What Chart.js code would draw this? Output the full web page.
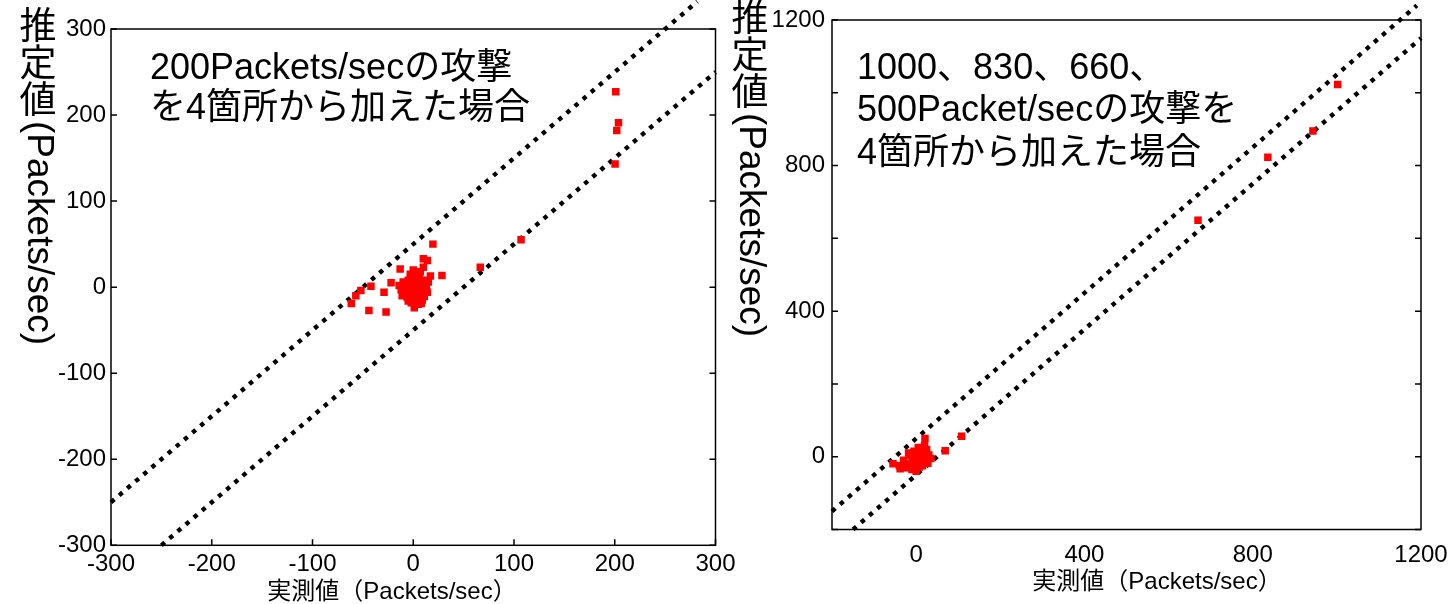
<!DOCTYPE html>
<html>
<head>
<meta charset="utf-8">
<script src="https://cdn.jsdelivr.net/npm/chart.js@4.4.0/dist/chart.umd.min.js"></script>
<style>
  body { margin: 0; background: #fff; width: 1450px; height: 604px; overflow: hidden; position: relative; }
  canvas { position: absolute; top: 0; }
</style>
</head>
<body>
<canvas id="leftChart" width="745" height="604" style="left:0px"></canvas>
<canvas id="rightChart" width="735" height="604" style="left:715px"></canvas>
<script>
// left plot: 200 Packets/sec from 4 places
const leftX = [201, 203.7, 202, 200.3, 107, 66.5, 28.5, 19.5, 10, 14, -13, -22, -42, -29, -52, -57, -61.5, -44, -27,
  10, 17, -12, 5, 0, 3, -5, 8, -8, 2, 6, -3, 12, -10, 4, -2, 9, 0, 14, -6, 7, 1, -14, 11, -4,
  -1, 5, 9, -7, 3, 13, -11, 6, -3, 1, 8, -5, 11, 4, -9, 2, 15, -2, 7, 0];
const leftY = [227, 191, 182, 143, 55, 23, 13.5, 50, 33, 31, 21, 5, 1, -6, -4, -10, -19, -27, -29,
  23, 13, -3, -20, 0, 5, 8, -8, -5, -12, 12, 15, 2, 6, -4, -18, -15, 20, -6, -12, 18, -24, 2, 8, -8,
  -14, 0, 4, 1, -9, -2, -10, 16, -1, 10, -19, -16, -11, 9, -2, -5, 6, 3, -3, 13];
const leftUpper = [[-300, -250], [282, 332]];
const leftLower = [[-250, -300], [300, 250]];

// right plot: 1000, 830, 660, 500 Packet/sec
const rightX = [1002, 943, 836, 670, 108, 69, 21, -55, -38, 1,
  0, 10, -10, 20, -20, 5, 30, -25, 15, -5, 25, -15, 35, 0, 10, -30, 20, -10,
  -40, 8, -2, 18, -18, 28, 12, -8, 3, -28];
const rightY = [1023, 895, 823, 650, 56, 16.5, 50, -19, -33, -29,
  0, 10, -5, -10, -20, 25, 5, -30, -25, 15, 20, 5, -5, -40, -15, -10, 30, -35,
  -25, -28, -12, 12, 10, -18, 0, -22, 8, -20];
const rightUpper = [[-200, -150], [1190, 1240]];
const rightLower = [[-150, -200], [1200, 1150]];

const FONT = "'Liberation Sans', 'Noto Sans CJK JP', sans-serif";

const toPts = (xs, ys) => xs.map((x, i) => ({ x: x, y: ys[i] }));
const toLine = arr => arr.map(p => ({ x: p[0], y: p[1] }));

// frame, inward ticks and the texts
const framePlugin = {
  id: 'frame',
  afterDraw(chart, args, opts) {
    const { ctx, chartArea: a, scales: { x, y } } = chart;
    ctx.save();
    ctx.strokeStyle = '#000';
    ctx.lineWidth = 1.5;
    ctx.strokeRect(a.left, a.top, a.right - a.left, a.bottom - a.top);
    ctx.beginPath();
    y.ticks.forEach(t => {
      const py = y.getPixelForValue(t.value);
      ctx.moveTo(a.left, py); ctx.lineTo(a.left + 6, py);
      ctx.moveTo(a.right, py); ctx.lineTo(a.right - 6, py);
    });
    if (opts.xTicks) {
      x.ticks.forEach(t => {
        const px = x.getPixelForValue(t.value);
        ctx.moveTo(px, a.bottom); ctx.lineTo(px, a.bottom - 6);
      });
    }
    ctx.stroke();

    ctx.fillStyle = '#000';
    // note in the plot
    ctx.font = '36px ' + FONT;
    ctx.textAlign = 'left';
    ctx.textBaseline = 'middle';
    opts.note.forEach((line, i) => ctx.fillText(line, opts.noteX, opts.noteY + i * opts.noteStep));

    // x title
    ctx.font = '24px ' + FONT;
    ctx.textAlign = 'center';
    ctx.fillText('実測値（Packets/sec）', opts.xTitleX, opts.xTitleY);

    // y title, vertical writing
    const fs = 37;
    ctx.font = fs + 'px ' + FONT;
    ['推', '定', '値'].forEach((c, i) => ctx.fillText(c, opts.yTitleX, opts.yTitleY + fs / 2 + i * fs));
    ctx.translate(opts.yTitleX, opts.yTitleY + 3 * fs);
    ctx.rotate(Math.PI / 2);
    ctx.textAlign = 'left';
    ctx.fillText('(Packets/sec)', 0, 0);
    ctx.restore();
  }
};

function makeChart(id, c) {
  return new Chart(document.getElementById(id), {
    type: 'scatter',
    data: {
      datasets: [
        { data: c.points, pointStyle: 'rect', pointRadius: 5.3, borderWidth: 0,
          backgroundColor: '#ff0000', borderColor: '#ff0000' },
        { data: c.upper, showLine: true, pointRadius: 0, borderColor: '#000',
          borderWidth: 4.4, borderDash: [4.4, 6.3], clip: false },
        { data: c.lower, showLine: true, pointRadius: 0, borderColor: '#000',
          borderWidth: 4.4, borderDash: [4.4, 6.3], clip: false }
      ]
    },
    options: {
      responsive: false,
      animation: false,
      devicePixelRatio: 1,
      layout: { padding: { top: c.padTop, right: c.padRight, left: 0, bottom: 0 } },
      plugins: {
        legend: { display: false },
        tooltip: { enabled: false },
        frame: c.frame
      },
      scales: {
        x: {
          type: 'linear', min: c.xMin, max: c.xMax,
          afterFit: s => { s.height = c.xH; s.paddingLeft = 0; s.paddingRight = 0; },
          grid: { display: false, drawTicks: false },
          border: { display: false },
          ticks: { stepSize: c.xStep, autoSkip: false, maxRotation: 0, padding: c.xPad,
            color: '#000', font: { family: FONT, size: 24 }, callback: c.xLabel }
        },
        y: {
          type: 'linear', min: c.yMin, max: c.yMax,
          afterFit: s => { s.width = c.yW; s.paddingTop = 0; s.paddingBottom = 0; },
          grid: { display: false, drawTicks: false },
          border: { display: false },
          ticks: { stepSize: c.yStep, autoSkip: false, padding: c.yPad,
            color: '#000', font: { family: FONT, size: 24 }, callback: c.yLabel }
        }
      }
    },
    plugins: [framePlugin]
  });
}

makeChart('leftChart', {
  points: toPts(leftX, leftY), upper: toLine(leftUpper), lower: toLine(leftLower),
  xMin: -300, xMax: 300, xStep: 100, yMin: -300, yMax: 300, yStep: 100,
  xLabel: v => v, yLabel: v => v,
  padTop: 29, padRight: 29.5, xH: 58.7, yW: 111, xPad: 5, yPad: 5,
  frame: { xTicks: true, note: ['200Packets/secの攻撃', 'を4箇所から加えた場合'],
    noteX: 150, noteY: 69, noteStep: 40, xTitleX: 392, xTitleY: 592, yTitleX: 38, yTitleY: 10 }
});

makeChart('rightChart', {
  points: toPts(rightX, rightY), upper: toLine(rightUpper), lower: toLine(rightLower),
  xMin: -200, xMax: 1200, xStep: 200, yMin: -200, yMax: 1200, yStep: 200,
  xLabel: v => (v >= 0 && v % 400 === 0 ? v : ''), yLabel: v => (v >= 0 && v % 400 === 0 ? v : ''),
  padTop: 20, padRight: 29, xH: 74.5, yW: 117, xPad: 11, yPad: 7,
  frame: { xTicks: false, note: ['1000、830、660、', '500Packet/secの攻撃を', '4箇所から加えた場合'],
    noteX: 142, noteY: 69, noteStep: 42.5, xTitleX: 442, xTitleY: 582, yTitleX: 35, yTitleY: 2 }
});
</script>
</body>
</html>
